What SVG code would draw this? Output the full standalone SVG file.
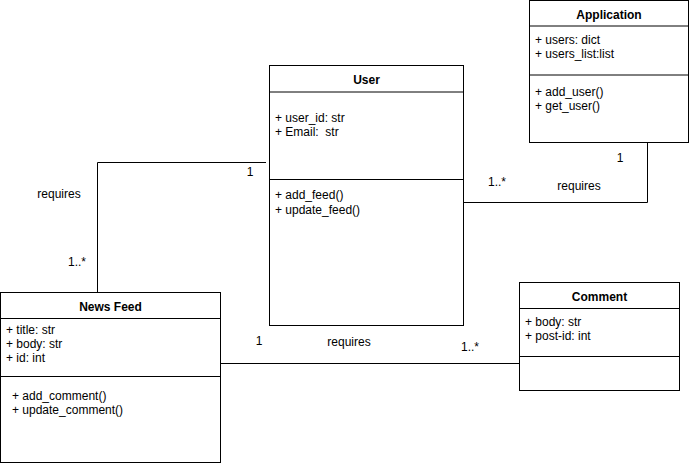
<svg xmlns="http://www.w3.org/2000/svg" width="690" height="463" viewBox="0 0 690 463">
<style>
text{font-family:"Liberation Sans",Arial,Helvetica,sans-serif;font-size:12px;fill:#000}
.t{font-weight:bold;text-anchor:middle}
.m{text-anchor:middle}
.box{fill:#fff;stroke:#000;stroke-width:1}
.ln{stroke:#000;stroke-width:1;fill:none}
</style>
<rect width="690" height="463" fill="#fff"/>
<g id="connectors">
<polyline class="ln" points="266,162.5 97.5,162.5 97.5,292.5"/>
<polyline class="ln" points="463.5,202.5 647.5,202.5 647.5,142.5"/>
<line class="ln" x1="220.5" y1="363.5" x2="519.5" y2="363.5"/>
<text class="m" x="59" y="198">requires</text>
<text class="m" x="77" y="266">1..*</text>
<text class="m" x="250" y="176">1</text>
<text class="m" x="497" y="186">1..*</text>
<text class="m" x="579" y="190">requires</text>
<text class="m" x="620" y="162">1</text>
<text class="m" x="259" y="345">1</text>
<text class="m" x="349" y="346">requires</text>
<text class="m" x="470" y="351">1..*</text>
</g>
<g id="application">
<rect class="box" x="529.5" y="0.5" width="159" height="142"/>
<line class="ln" x1="529.5" y1="26" x2="688.5" y2="26"/>
<line class="ln" x1="529.5" y1="75" x2="688.5" y2="75"/>
<text class="t" x="609" y="19">Application</text>
<text x="535" y="43.5">+ users: dict</text>
<text x="535" y="57.5">+ users_list:list</text>
<text x="535" y="95.5">+ add_user()</text>
<text x="535" y="109.5">+ get_user()</text>
</g>
<g id="user">
<rect class="box" x="269.5" y="65.5" width="194" height="260"/>
<line class="ln" x1="269.5" y1="92" x2="463.5" y2="92"/>
<line class="ln" x1="269.5" y1="179.5" x2="463.5" y2="179.5"/>
<text class="t" x="366.5" y="83.5">User</text>
<text x="275" y="122">+ user_id: str</text>
<text x="275" y="136" xml:space="preserve">+ Email:  str</text>
<text x="275" y="199">+ add_feed()</text>
<text x="275" y="213.5">+ update_feed()</text>
</g>
<g id="newsfeed">
<rect class="box" x="0.5" y="292.5" width="220" height="170"/>
<line class="ln" x1="0.5" y1="318.5" x2="220.5" y2="318.5"/>
<line class="ln" x1="0.5" y1="376.5" x2="220.5" y2="376.5"/>
<text class="t" x="110.5" y="311">News Feed</text>
<text x="6" y="334">+ title: str</text>
<text x="6" y="348">+ body: str</text>
<text x="6" y="362">+ id: int</text>
<text x="12" y="400">+ add_comment()</text>
<text x="12" y="414">+ update_comment()</text>
</g>
<g id="comment">
<rect class="box" x="519.5" y="282.5" width="160" height="108"/>
<line class="ln" x1="519.5" y1="308.5" x2="679.5" y2="308.5"/>
<line class="ln" x1="519.5" y1="356.5" x2="679.5" y2="356.5"/>
<text class="t" x="599.5" y="300.5">Comment</text>
<text x="525" y="326">+ body: str</text>
<text x="525" y="340">+ post-id: int</text>
</g>
</svg>
